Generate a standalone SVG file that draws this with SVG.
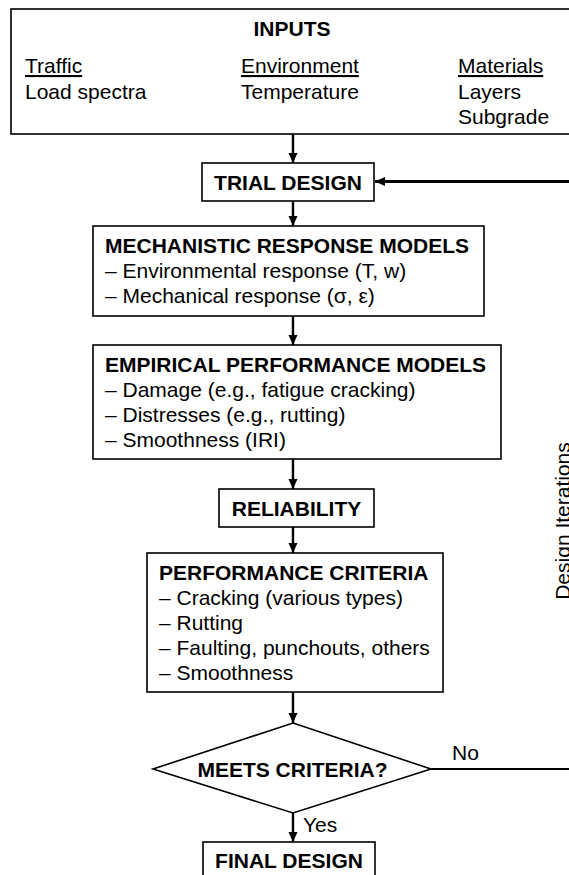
<svg xmlns="http://www.w3.org/2000/svg" width="569" height="875" viewBox="0 0 569 875">
  <defs>
    <marker id="arrow" viewBox="0 0 10 10" refX="10" refY="5" markerWidth="10" markerHeight="10" markerUnits="userSpaceOnUse" orient="auto">
      <path d="M0,0.5 L10,5 L0,9.5 Z" fill="#000"/>
    </marker>
  </defs>
  <style>
    .box { fill: #fff; stroke: #000; stroke-width: 1.6; }
    .t { font-family: "Liberation Sans", Arial, sans-serif; font-size: 21px; fill: #000; }
    .b { font-weight: bold; }
    .c { text-anchor: middle; }
    .u { text-decoration: underline; }
    .link { fill: none; stroke: #000; stroke-width: 2.4; }
  </style>
  <rect width="569" height="875" fill="#fff"/>

  <!-- inputs -->
  <g id="inputs">
    <rect class="box" x="11" y="9" width="580" height="125"/>
    <text class="t b c" x="292" y="36">INPUTS</text>
    <text class="t u" x="25" y="73">Traffic</text>
    <text class="t" x="25" y="99">Load spectra</text>
    <text class="t u" x="241" y="73">Environment</text>
    <text class="t" x="241" y="99">Temperature</text>
    <text class="t u" x="458" y="73">Materials</text>
    <text class="t" x="458" y="99">Layers</text>
    <text class="t" x="458" y="124">Subgrade</text>
  </g>

  <g id="trial-design">
    <rect class="box" x="202" y="163" width="172" height="38"/>
    <text class="t b c" x="288" y="190">TRIAL DESIGN</text>
  </g>

  <g id="mechanistic-models">
    <rect class="box" x="93" y="226" width="391" height="90"/>
    <text class="t b" x="105" y="253">MECHANISTIC RESPONSE MODELS</text>
    <text class="t" x="105" y="278">– Environmental response (T, w)</text>
    <text class="t" x="105" y="303">– Mechanical response (σ, ε)</text>
  </g>

  <g id="empirical-models">
    <rect class="box" x="93" y="345" width="408" height="114"/>
    <text class="t b" x="105" y="372">EMPIRICAL PERFORMANCE MODELS</text>
    <text class="t" x="105" y="397">– Damage (e.g., fatigue cracking)</text>
    <text class="t" x="105" y="422">– Distresses (e.g., rutting)</text>
    <text class="t" x="105" y="447">– Smoothness (IRI)</text>
  </g>

  <g id="reliability">
    <rect class="box" x="219" y="489" width="155" height="38"/>
    <text class="t b c" x="296.5" y="516">RELIABILITY</text>
  </g>

  <g id="performance-criteria">
    <rect class="box" x="147" y="553" width="296" height="139"/>
    <text class="t b" x="159" y="580">PERFORMANCE CRITERIA</text>
    <text class="t" x="159" y="605">– Cracking (various types)</text>
    <text class="t" x="159" y="630">– Rutting</text>
    <text class="t" x="159" y="655">– Faulting, punchouts, others</text>
    <text class="t" x="159" y="680">– Smoothness</text>
  </g>

  <g id="meets-criteria">
    <polygon class="box" points="293,723 431,769 293,813 153,769"/>
    <text class="t b c" x="292.5" y="777">MEETS CRITERIA?</text>
  </g>

  <g id="final-design">
    <rect class="box" x="203" y="842" width="172" height="60"/>
    <text class="t b c" x="289" y="868">FINAL DESIGN</text>
  </g>

  <!-- connectors -->
  <g id="connectors">
    <path class="link" d="M293,134 V163" marker-end="url(#arrow)"/>
    <path class="link" d="M293,201 V226" marker-end="url(#arrow)"/>
    <path class="link" d="M293,316 V345" marker-end="url(#arrow)"/>
    <path class="link" d="M293,459 V489" marker-end="url(#arrow)"/>
    <path class="link" d="M293,527 V553" marker-end="url(#arrow)"/>
    <path class="link" d="M293,692 V723" marker-end="url(#arrow)"/>
    <path class="link" d="M293,813 V842" marker-end="url(#arrow)"/>
    <path class="link" d="M431,769 H580" style="stroke-width:1.8"/>
    <path class="link" d="M580,181.5 H375" style="stroke-width:3" marker-end="url(#arrow)"/>
    <text class="t" x="452" y="760">No</text>
    <text class="t" x="303" y="832">Yes</text>
    <text class="t c" transform="translate(570,521) rotate(-90)">Design Iterations</text>
  </g>
</svg>
